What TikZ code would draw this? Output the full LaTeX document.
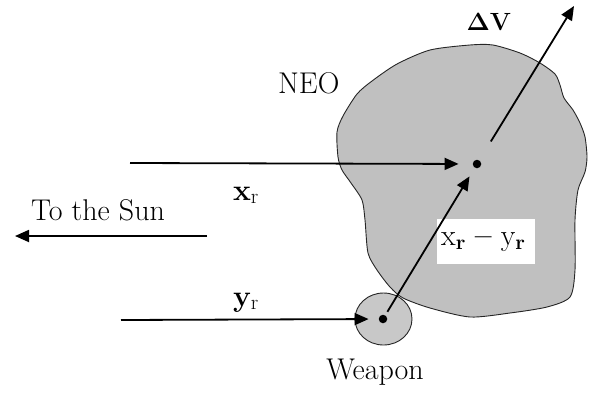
\documentclass[tikz,border=0pt]{standalone}
\usetikzlibrary{arrows.meta}
\definecolor{neogray}{HTML}{C0C0C0}
\definecolor{wgray}{HTML}{C8C8C8}
\tikzset{
  vec/.style={-{Triangle[length=14pt,width=12pt]}, line width=1.8pt},
  dotnode/.style={circle, fill=black, inner sep=0pt, minimum size=8.5pt},
  lbl/.style={font=\fontsize{30}{34}\selectfont, inner sep=0pt},
}
\begin{document}
\begin{tikzpicture}[x=1pt,y=-1pt]
\useasboundingbox (0,0) rectangle (597,392);
% NEO body
\draw[fill=neogray, draw=black!85, line width=0.9pt]
  plot[smooth cycle, tension=0.45] coordinates {
  (470,45) (493,45) (520,53) (540,63) (555,74) (560,85) (564,98) (573,110)
  (580,123) (585,137) (587,157) (585,172) (578,190) (575,220) (575,270)
  (570,297) (547,307) (510,313) (470,317) (430,308) (403,298) (390,287)
  (377,270) (368,253) (365,220) (362,200) (351,183) (342,170) (338,157)
  (337,132) (343,116) (357,94) (372,81) (397,64) (430,50)};
% weapon
\draw[fill=wgray, draw=black!85, line width=0.9pt] (383.5,319) ellipse [x radius=28.5, y radius=26];
% dots
\node[dotnode] (neo) at (477,164) {};
\node[dotnode] (wdot) at (383,319) {};
% free ends
\coordinate (xs) at (130,163);
\coordinate (ys) at (121,320);
\coordinate (sunS) at (207,236);
\coordinate (sunE) at (15,236);
\coordinate (dve) at (574,6);
% label box
\node[fill=white, minimum width=98pt, minimum height=45pt, inner sep=0pt] (diffbox) at (486,241.5) {};
\node[lbl, anchor=west] (difflbl) at (441,242) {x\textsubscript{\textbf{r}} \textbf{--} y\textsubscript{\textbf{r}}};
% arrows
\draw[vec, shorten >=14pt] (xs) -- (neo);
\draw[vec, shorten >=10pt] (ys) -- (wdot);
\draw[vec, shorten >=10pt, shorten <=4pt] (wdot) -- (neo);
\draw[vec, shorten <=22pt] (neo) -- (dve);
\draw[vec] (sunS) -- (sunE);
% labels
\node[lbl, anchor=base west] (neolbl) at (278,93) {NEO};
\node[lbl, anchor=base] (dvlbl) at (489,30) {$\mathbf{\Delta V}$};
\node[lbl, anchor=base] (xlbl) at (246,200) {\textbf{x}\textsubscript{r}};
\node[lbl, anchor=base] (ylbl) at (246,306) {\textbf{y}\textsubscript{r}};
\node[lbl, anchor=base west] (sunlbl) at (31,220) {To the Sun};
\node[lbl, anchor=base] (wlbl) at (375,379) {Weapon};
\end{tikzpicture}
\end{document}
